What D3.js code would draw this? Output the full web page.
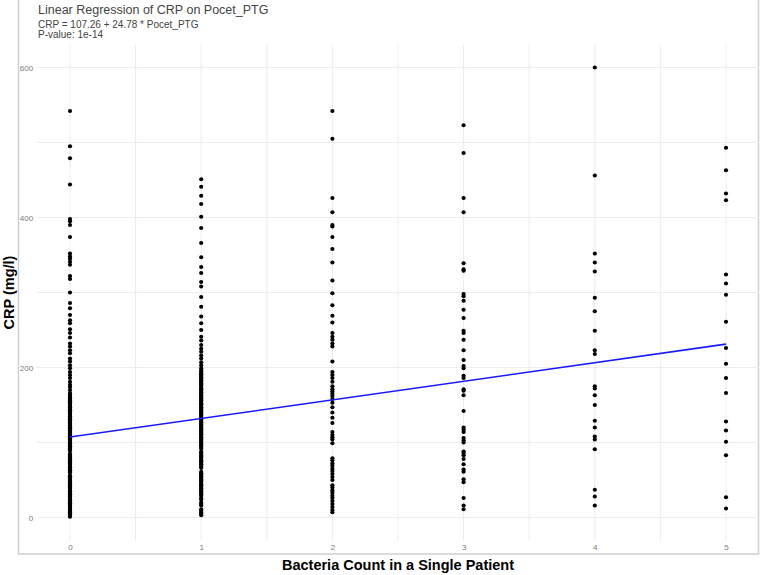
<!DOCTYPE html>
<html lang="en">
<head>
<meta charset="UTF-8">
<title>Linear Regression of CRP on Pocet_PTG</title>
<script src="https://d3js.org/d3.v7.min.js"></script>
<style>
  body { margin: 0; background: #fff; }
  svg { display: block; font-family: "Liberation Sans", Arial, sans-serif; }
</style>
</head>
<body>
<div id="chart"></div>
<script>
// CRP values (mg/l) per bacteria count
var crp0 = [542, 495, 479, 444, 398, 395, 390, 374, 352, 348, 345, 341, 337, 322, 318, 300,
  286, 279, 270, 263, 259, 251, 246, 240, 232, 228, 223, 219, 212, 208, 203, 199, 194, 190,
  186, 181, 177, 174, 170, 166, 164, 162, 161, 159, 158, 156, 155, 153, 152, 150, 149, 147,
  146, 144, 143, 141, 140, 138, 137, 135, 134, 132, 131, 129, 128, 126, 125, 123, 122, 120,
  119, 117, 116, 114, 113, 111, 110, 108, 107, 105, 104, 102, 101, 99, 98, 96, 95, 93, 92,
  90, 89, 85, 84, 82, 81, 79, 78, 76, 75, 73, 72, 70, 69, 67, 66, 64, 63, 61, 60, 56, 55, 53,
  52, 50, 49, 47, 46, 44, 43, 41, 40, 38, 37, 35, 34, 32, 31, 29, 28, 26, 25, 23, 22, 20, 19,
  17, 16, 14, 13, 11, 10, 8, 7, 5, 4, 2, 1];
var crp1 = [451, 441, 429, 418, 401, 386, 366, 347, 334, 326, 314, 308, 294, 281, 268, 259,
  250, 241, 236, 230, 225, 221, 216, 212, 207, 203, 199, 196, 194, 192, 191, 189, 187, 186,
  184, 182, 181, 179, 177, 176, 174, 172, 171, 169, 167, 166, 164, 162, 161, 159, 157, 156,
  154, 152, 151, 149, 147, 146, 144, 142, 141, 139, 137, 136, 134, 132, 131, 129, 127, 126,
  124, 122, 121, 119, 117, 116, 114, 112, 111, 109, 107, 106, 104, 102, 101, 99, 97, 96, 94,
  92, 88, 86, 85, 83, 81, 80, 78, 76, 75, 73, 71, 70, 68, 66, 61, 59, 58, 56, 54, 53, 51, 49,
  48, 46, 44, 43, 41, 39, 38, 36, 34, 33, 31, 29, 26, 24, 20, 18, 16, 11, 9, 7, 5, 3];
var crp2 = [542, 505, 426, 407, 390, 388, 374, 358, 340, 316, 299, 283, 269, 260, 246, 241,
  237, 232, 228, 208, 194, 190, 186, 181, 175, 171, 168, 165, 162, 158, 153, 147, 140, 133,
  126, 114, 110, 107, 104, 99, 79, 76, 72, 69, 65, 62, 58, 54, 50, 43, 40, 36, 33, 29, 26,
  22, 18, 14, 10, 7];
var crp3 = [523, 486, 426, 407, 339, 331, 329, 298, 295, 289, 277, 266, 249, 246, 237, 223,
  210, 202, 199, 189, 186, 171, 169, 163, 142, 120, 117, 114, 106, 103, 100, 88, 86, 83, 78,
  71, 64, 61, 51, 47, 26, 16, 11];
var crp4 = [600, 456, 352, 340, 328, 293, 275, 249, 223, 218, 175, 172, 163, 150, 129, 120,
  108, 104, 91, 37, 28, 16];
var crp5 = [493, 463, 432, 423, 324, 312, 297, 261, 226, 205, 186, 166, 128, 116, 101, 83, 27, 12];

var counts = [0, 1, 2, 3, 4, 5];
var crpByCount = [crp0, crp1, crp2, crp3, crp4, crp5];
var yTicks = [0, 200, 400, 600];
var yMinor = [100, 300, 500];
var xMinor = [0.5, 1.5, 2.5, 3.5, 4.5];
var intercept = 107.26, slope = 24.78;

var W = 762, H = 575;
var svg = d3.select("#chart").append("svg").attr("width", W).attr("height", H);

var x = d3.scaleLinear().domain([-0.25, 5.25]).range([37.2, 758.8]);
var y = d3.scaleLinear().domain([-30, 630]).range([540, 45]);

// frame around the figure
svg.append("rect")
  .attr("x", 18.5).attr("y", -2).attr("width", 740).attr("height", 556)
  .attr("fill", "none").attr("stroke", "#cfcfcf").attr("stroke-width", 1.5);

// grid
var grid = svg.append("g").attr("stroke", "#ececec").attr("stroke-width", 1);
grid.selectAll(".hm").data(yMinor.concat(yTicks)).enter().append("line")
  .attr("x1", x.range()[0]).attr("x2", x.range()[1])
  .attr("y1", d => y(d)).attr("y2", d => y(d));
grid.selectAll(".vm").data(xMinor.concat(counts)).enter().append("line")
  .attr("y1", y.range()[0]).attr("y2", y.range()[1])
  .attr("x1", d => x(d)).attr("x2", d => x(d));

// axes (text only, like theme_minimal)
var yAxis = svg.append("g").attr("transform", "translate(" + x.range()[0] + ",0)")
  .call(d3.axisLeft(y).tickValues(yTicks).tickSize(0).tickPadding(4).tickFormat(d3.format("d")));
var xAxis = svg.append("g").attr("transform", "translate(0," + y.range()[0] + ")")
  .call(d3.axisBottom(x).tickValues(counts).tickSize(0).tickPadding(4).tickFormat(d3.format("d")));
[xAxis, yAxis].forEach(function(a) {
  a.select(".domain").remove();
  a.selectAll("text").attr("fill", "#7a7a7a").style("font-size", "8px")
    .style("font-family", "Liberation Sans, Arial, sans-serif");
});

// points
var pts = [];
crpByCount.forEach(function(vals, i) {
  vals.forEach(function(v) { pts.push({count: counts[i], crp: v}); });
});
svg.append("g").selectAll("circle").data(pts).enter().append("circle")
  .attr("cx", d => x(d.count)).attr("cy", d => y(d.crp))
  .attr("r", 2.1).attr("fill", "#000");

// regression line
svg.append("path")
  .datum([0, 5])
  .attr("fill", "none").attr("stroke", "#1a1aff").attr("stroke-width", 1.6)
  .attr("d", d3.line().x(d => x(d)).y(d => y(intercept + slope * d)));

// titles
svg.append("text").attr("x", 38).attr("y", 14)
  .attr("fill", "#444").style("font-size", "12.5px")
  .text("Linear Regression of CRP on Pocet_PTG");
svg.append("text").attr("x", 38).attr("y", 28)
  .attr("fill", "#444").style("font-size", "10px")
  .text("CRP = 107.26 + 24.78 * Pocet_PTG");
svg.append("text").attr("x", 38).attr("y", 38)
  .attr("fill", "#444").style("font-size", "10px")
  .text("P-value: 1e-14");

svg.append("text")
  .attr("x", (x.range()[0] + x.range()[1]) / 2).attr("y", 570)
  .attr("text-anchor", "middle").style("font-size", "14.5px").style("font-weight", "bold")
  .text("Bacteria Count in a Single Patient");
svg.append("text")
  .attr("transform", "translate(14," + ((y.range()[0] + y.range()[1]) / 2) + ") rotate(-90)")
  .attr("text-anchor", "middle").style("font-size", "14.5px").style("font-weight", "bold")
  .text("CRP (mg/l)");
</script>
</body>
</html>
